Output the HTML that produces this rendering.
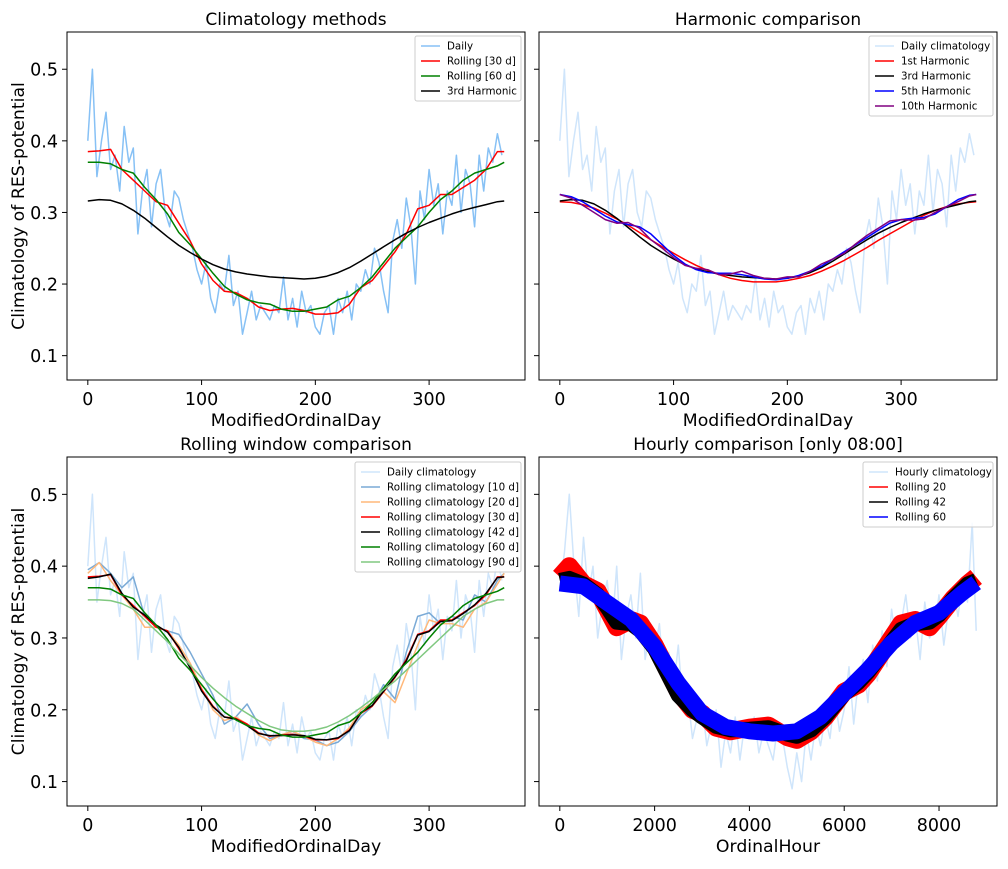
<!DOCTYPE html>
<html><head><meta charset="utf-8"><style>
body{margin:0;background:#fff;width:1008px;height:864px;overflow:hidden}
svg text{font-family:"DejaVu Sans","Liberation Sans",sans-serif;fill:#000}
</style></head><body>
<svg id="fig" width="1008" height="864" xmlns="http://www.w3.org/2000/svg"></svg>
<script>
// ---- data ----
const dailyStep = 4;
const dailyVals = [.40,.50,.35,.40,.44,.36,.38,.33,.42,.37,.39,
.27,.33,.36,.28,.34,.36,.30,.28,.33,.32,
.29,.27,.25,.22,.20,.23,.18,.16,.20,.19,
.24,.17,.19,.13,.16,.19,.15,.17,.16,.15,
.17,.16,.21,.15,.18,.14,.19,.16,.17,.14,
.13,.16,.17,.13,.18,.16,.19,.15,.20,.19,
.22,.20,.25,.23,.19,.16,.26,.29,.25,.32,
.28,.20,.33,.29,.36,.31,.34,.27,.33,.31,
.38,.30,.36,.34,.28,.38,.33,.39,.37,.41,.38];
const smoothDays = [0,10,20,30,40,50,60,70,80,90,100,110,120,130,140,150,160,170,180,190,200,210,220,230,240,250,260,270,280,290,300,310,320,330,340,350,360,366];
const roll30 = [.385,.386,.388,.36,.345,.33,.315,.31,.285,.26,.228,.205,.19,.188,.18,.168,.163,.165,.166,.163,.158,.158,.16,.172,.195,.205,.225,.245,.27,.305,.31,.325,.325,.335,.345,.36,.385,.385];
const roll42 = [.383,.385,.389,.362,.343,.332,.318,.308,.287,.258,.226,.204,.19,.187,.178,.167,.164,.164,.165,.164,.159,.158,.161,.171,.196,.206,.226,.246,.268,.304,.309,.323,.324,.334,.346,.362,.384,.385];
const roll60 = [.37,.37,.368,.36,.355,.335,.318,.298,.272,.255,.235,.215,.197,.186,.178,.174,.172,.165,.162,.162,.165,.168,.178,.183,.195,.21,.23,.25,.265,.28,.3,.318,.33,.345,.355,.36,.365,.37];
const harm3 = [.316,.318,.317,.312,.303,.292,.279,.266,.254,.244,.235,.227,.221,.217,.214,.212,.21,.209,.208,.207,.208,.211,.216,.223,.232,.242,.252,.262,.271,.279,.286,.292,.298,.303,.307,.311,.315,.316];
const harm1 = [.315,.314,.311,.306,.299,.291,.282,.272,.262,.252,.243,.234,.226,.219,.213,.208,.205,.203,.203,.203,.205,.208,.212,.218,.225,.233,.242,.251,.261,.27,.279,.288,.296,.303,.308,.312,.314,.315];
const harm5 = [.325,.322,.315,.305,.295,.287,.283,.28,.27,.255,.24,.228,.22,.216,.215,.215,.213,.21,.207,.206,.208,.212,.218,.225,.235,.245,.255,.265,.275,.285,.29,.292,.293,.298,.308,.318,.324,.325];
const harm10 = [.325,.32,.31,.3,.29,.285,.286,.278,.262,.25,.237,.226,.222,.22,.213,.214,.218,.212,.208,.207,.21,.21,.218,.228,.235,.243,.256,.268,.278,.288,.29,.289,.291,.3,.308,.315,.323,.325];
const roll10 = [.395,.405,.39,.37,.385,.33,.315,.31,.305,.28,.25,.22,.18,.19,.208,.18,.16,.165,.17,.16,.158,.15,.155,.17,.19,.205,.235,.215,.28,.33,.335,.32,.33,.325,.36,.35,.38,.39];
const roll20 = [.39,.405,.38,.36,.34,.315,.315,.31,.29,.265,.23,.2,.185,.19,.18,.165,.157,.165,.17,.163,.155,.15,.16,.175,.2,.21,.225,.21,.25,.29,.325,.32,.32,.315,.34,.35,.375,.39];
const roll90 = [.353,.353,.352,.348,.34,.325,.31,.295,.278,.262,.245,.23,.217,.205,.195,.185,.177,.172,.17,.17,.172,.176,.183,.192,.203,.215,.228,.24,.255,.27,.285,.3,.315,.33,.34,.348,.353,.353];
const hourlyStep = 100;
const hourlyVals = [.37,.42,.50,.40,.33,.44,.36,.40,.30,.35,
.38,.31,.40,.27,.33,.36,.30,.39,.27,.31,
.28,.32,.24,.28,.23,.29,.20,.22,.16,.19,
.21,.15,.18,.20,.12,.17,.14,.19,.13,.18,
.16,.19,.14,.17,.15,.13,.18,.16,.12,.09,
.14,.10,.17,.13,.18,.15,.19,.16,.22,.17,
.20,.26,.18,.24,.27,.21,.29,.24,.31,.26,
.34,.29,.32,.36,.30,.33,.27,.35,.30,.31,
.36,.29,.34,.37,.33,.38,.35,.46,.31];
const bandHours = [0,200,500,800,1000,1200,1500,1700,2000,2500,2800,3000,3300,3600,4000,4400,4800,5000,5300,5600,6000,6300,6500,7000,7200,7500,7800,8000,8300,8600,8784];
const hRoll20 = [.385,.40,.375,.365,.34,.315,.325,.32,.29,.225,.2,.195,.175,.17,.175,.178,.162,.158,.17,.19,.225,.235,.25,.3,.32,.325,.315,.33,.355,.375,.385];
const hRoll42 = [.38,.383,.375,.36,.342,.322,.32,.31,.285,.22,.2,.19,.177,.172,.173,.175,.166,.163,.172,.19,.222,.238,.252,.295,.312,.32,.322,.332,.355,.375,.38];
const blueHours = [0,500,1000,1500,2000,2500,3000,3500,4000,4500,5000,5500,6000,6500,7000,7500,8000,8500,8784];
const hRoll60 = [.376,.372,.349,.326,.288,.237,.195,.176,.17,.167,.17,.19,.223,.256,.293,.321,.335,.363,.377];
const yTicks = [0.1,0.2,0.3,0.4,0.5];
const dayTicks = [0,100,200,300];
const hourTicks = [0,2000,4000,6000,8000];

// ---- drawing ----
const NS="http://www.w3.org/2000/svg";
const svg=document.getElementById('fig');
function mk(tag,attrs,parent){const e=document.createElementNS(NS,tag);for(const k in attrs)e.setAttribute(k,attrs[k]);(parent||svg).appendChild(e);return e;}
const YMIN=0.066,YMAX=0.552;
function panel(name,x0,x1,y0,y1,xmin,xmax){
  const g=mk('g',{});
  
  
  return {g,x0,x1,y0,y1,sx:v=>x0+(v-xmin)/(xmax-xmin)*(x1-x0),sy:v=>y1-(v-YMIN)/(YMAX-YMIN)*(y1-y0)};
}
function line(p,xs,ys,color,w,name,op){
  let d='';for(let i=0;i<ys.length;i++){d+=(i?'L':'M')+p.sx(xs[i]).toFixed(1)+','+p.sy(ys[i]).toFixed(1);}
  const e=mk('path',{d,fill:'none',stroke:color,'stroke-width':w,'stroke-linejoin':'round','stroke-opacity':op||1},p.g);
  
  
}
function stepXs(n,step,max){const a=[];for(let i=0;i<n;i++)a.push(Math.min(i*step,max));return a;}
function axes(p,xt,showY,title,xlabel){
  mk('rect',{x:p.x0,y:p.y0,width:p.x1-p.x0,height:p.y1-p.y0,fill:'none',stroke:'#000','stroke-width':1},p.g);
  xt.forEach(t=>{const x=p.sx(t);mk('line',{x1:x,x2:x,y1:p.y1,y2:p.y1+5,stroke:'#000'},p.g);
    const tx=mk('text',{x,y:p.y1+25,'text-anchor':'middle','font-size':17.5},p.g);tx.textContent=t;
    
    });
  yTicks.forEach(t=>{const y=p.sy(t);mk('line',{x1:p.x0-5,x2:p.x0,y1:y,y2:y,stroke:'#000'},p.g);
    if(showY){const tx=mk('text',{x:p.x0-9,y:y+6.5,'text-anchor':'end','font-size':17.5},p.g);tx.textContent=t.toFixed(1);
    
    }});
  const ti=mk('text',{x:(p.x0+p.x1)/2,y:p.y0-7,'text-anchor':'middle','font-size':17},p.g);ti.textContent=title;
  
  
  const xl=mk('text',{x:(p.x0+p.x1)/2,y:p.y1+46,'text-anchor':'middle','font-size':17.3},p.g);xl.textContent=xlabel;
  
  
  if(showY){const cy=(p.y0+p.y1)/2;const yl=mk('text',{x:24,y:cy,'text-anchor':'middle','font-size':17.3,transform:`rotate(-90 24 ${cy})`},p.g);yl.textContent='Climatology of RES-potential';
  
  }
}
function legend(p,right,top,width,entries){
  const lg=mk('g',{},p.g);
  
  
  const h=entries.length*15+5;
  mk('rect',{x:right-width,y:top,width,height:h,rx:2,fill:'#fff','fill-opacity':0.85,stroke:'#ccc'},lg);
  entries.forEach((e,i)=>{const y=top+10+i*15;const x=right-width+6;
    mk('line',{x1:x,x2:x+19,y1:y,y2:y,stroke:e[1],'stroke-width':1.6,'stroke-opacity':e[2]||1},lg);
    const t=mk('text',{x:x+26,y:y+3.5,'font-size':10.3},lg);t.textContent=e[0];
    
    });
}
const dXs=stepXs(dailyVals.length,dailyStep,366);
const dmin=-18.3,dmax=384.3;
// Panel 1
const p1=panel('climatology-methods-panel',67,525,32,380,dmin,dmax);
line(p1,dXs,dailyVals,'#87c1f5',1.5,'daily-line');
line(p1,smoothDays,roll30,'#ff0000',1.5,'rolling-30-line');
line(p1,smoothDays,roll60,'#008000',1.5,'rolling-60-line');
line(p1,smoothDays,harm3,'#000',1.5,'harmonic-3-line');
axes(p1,dayTicks,true,'Climatology methods','ModifiedOrdinalDay');
legend(p1,521,36,106,[['Daily','#87c1f5'],['Rolling [30 d]','#ff0000'],['Rolling [60 d]','#008000'],['3rd Harmonic','#000']]);
// Panel 2
const p2=panel('harmonic-comparison-panel',539,997,32,380,dmin,dmax);
line(p2,dXs,dailyVals,'#cfe5fb',1.5,'daily-climatology-line');
line(p2,smoothDays,harm1,'#ff0000',1.5,'harmonic-1-line');
line(p2,smoothDays,harm3,'#000',1.5,'harmonic-3-line');
line(p2,smoothDays,harm5,'#0000ff',1.5,'harmonic-5-line');
line(p2,smoothDays,harm10,'#800080',1.5,'harmonic-10-line');
axes(p2,dayTicks,false,'Harmonic comparison','ModifiedOrdinalDay');
legend(p2,993,36,124,[['Daily climatology','#cfe5fb'],['1st Harmonic','#ff0000'],['3rd Harmonic','#000'],['5th Harmonic','#0000ff'],['10th Harmonic','#800080']]);
// Panel 3
const p3=panel('rolling-window-panel',67,525,457,806,dmin,dmax);
line(p3,dXs,dailyVals,'#cfe5fb',1.5,'daily-climatology-line');
line(p3,smoothDays,roll10,'#7aaad6',1.5,'rolling-10-line');
line(p3,smoothDays,roll20,'#ffb87a',1.5,'rolling-20-line');
line(p3,smoothDays,roll30,'#ff0000',1.5,'rolling-30-line');
line(p3,smoothDays,roll42,'#000',1.5,'rolling-42-line');
line(p3,smoothDays,roll60,'#008000',1.5,'rolling-60-line');
line(p3,smoothDays,roll90,'#80c880',1.5,'rolling-90-line');
axes(p3,dayTicks,true,'Rolling window comparison','ModifiedOrdinalDay');
legend(p3,521,462,166,[['Daily climatology','#cfe5fb'],['Rolling climatology [10 d]','#7aaad6'],['Rolling climatology [20 d]','#ffb87a'],['Rolling climatology [30 d]','#ff0000'],['Rolling climatology [42 d]','#000'],['Rolling climatology [60 d]','#008000'],['Rolling climatology [90 d]','#80c880']]);
// Panel 4
const p4=panel('hourly-comparison-panel',539,997,457,806,-439,9223);
line(p4,stepXs(hourlyVals.length,hourlyStep,8784),hourlyVals,'#cfe5fb',1.5,'hourly-climatology-line');
line(p4,bandHours,hRoll20,'#ff0000',18,'rolling-20-band');
line(p4,bandHours,hRoll42,'#000',15,'rolling-42-band');
line(p4,blueHours,hRoll60,'#0000ff',16,'rolling-60-band');
axes(p4,hourTicks,false,'Hourly comparison [only 08:00]','OrdinalHour');
legend(p4,993,462,130,[['Hourly climatology','#cfe5fb'],['Rolling 20','#ff0000'],['Rolling 42','#000'],['Rolling 60','#0000ff']]);
</script>
</body></html>
